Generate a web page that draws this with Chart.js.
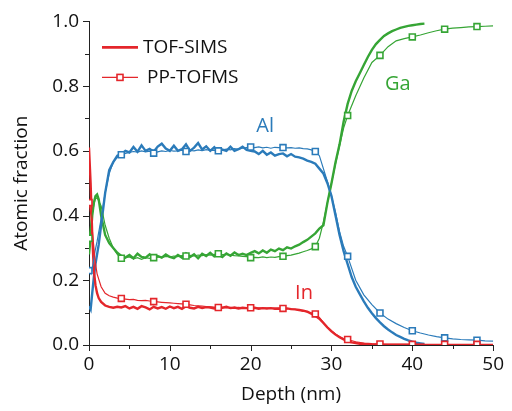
<!DOCTYPE html>
<html>
<head>
<meta charset="utf-8">
<script src="https://cdn.jsdelivr.net/npm/chart.js@4.4.0/dist/chart.umd.min.js"></script>
<style>
  html, body { margin: 0; padding: 0; background: #fff; }
  #wrap { width: 512px; height: 411px; }
</style>
</head>
<body>
<div id="wrap"><canvas id="c"></canvas></div>
<script>
// Depth profiles: TOF-SIMS (thick, no markers) vs PP-TOFMS (thin, square every 4 nm)

const simsDepth = [0, 0.2, 0.4, 0.6, 0.8, 1.0, 1.2, 1.5, 2, 2.5, 3, 3.5, 4,
  4.5, 5, 5.5, 6, 6.5, 7, 7.5, 8, 8.5, 9, 9.5, 10, 10.5, 11, 11.5, 12, 12.5, 13, 13.5, 14, 14.5, 15, 15.5, 16, 16.5, 17, 17.5, 18, 18.5, 19, 19.5, 20,
  20.5, 21, 21.5, 22, 22.5, 23, 23.5, 24, 24.5, 25, 25.5, 26, 26.5, 27, 27.5, 28, 28.5, 29, 29.5, 30,
  30.5, 31, 31.5, 32, 32.5, 33, 33.5, 34, 34.5, 35, 35.5, 36, 36.5, 37, 37.5, 38, 38.5, 39, 39.5, 40, 40.5, 41, 41.5]

const simsAl = [0.12, 0.11, 0.16, 0.21, 0.25, 0.28, 0.31, 0.37, 0.47, 0.54, 0.565, 0.585, 0.59,
  0.60, 0.595, 0.612, 0.597, 0.617, 0.60, 0.606, 0.597, 0.613, 0.622, 0.607, 0.60, 0.616, 0.60, 0.605, 0.62, 0.60, 0.61, 0.624, 0.604, 0.614, 0.60, 0.611, 0.597, 0.604, 0.60, 0.613, 0.60, 0.605, 0.613, 0.603, 0.60,
  0.598, 0.59, 0.60, 0.588, 0.595, 0.585, 0.59, 0.592, 0.583, 0.59, 0.582, 0.58, 0.576, 0.57, 0.566, 0.56, 0.545, 0.53, 0.50, 0.46,
  0.40, 0.34, 0.29, 0.25, 0.21, 0.18, 0.157, 0.135, 0.115, 0.098, 0.083, 0.07, 0.058, 0.048, 0.039, 0.031, 0.025, 0.019, 0.014, 0.01, 0.007, 0.005, 0.003]

const simsGa = [0.28, 0.33, 0.40, 0.44, 0.46, 0.465, 0.45, 0.40, 0.34, 0.315, 0.30, 0.285, 0.275,
  0.27, 0.278, 0.268, 0.282, 0.272, 0.27, 0.28, 0.268, 0.275, 0.27, 0.28, 0.272, 0.268, 0.278, 0.27, 0.283, 0.272, 0.28, 0.268, 0.282, 0.275, 0.285, 0.274, 0.28, 0.272, 0.283, 0.276, 0.286, 0.278, 0.282, 0.278, 0.285,
  0.29, 0.283, 0.292, 0.285, 0.295, 0.29, 0.298, 0.293, 0.302, 0.298, 0.305, 0.31, 0.318, 0.325, 0.335, 0.345, 0.36, 0.37, 0.44, 0.50,
  0.565, 0.62, 0.69, 0.745, 0.785, 0.815, 0.84, 0.865, 0.89, 0.912, 0.93, 0.943, 0.955, 0.963, 0.97, 0.975, 0.98, 0.983, 0.986, 0.988, 0.99, 0.992, 0.993]

const simsIn = [0.61, 0.50, 0.34, 0.23, 0.185, 0.16, 0.145, 0.133, 0.122, 0.118, 0.115, 0.118, 0.116,
  0.12, 0.113, 0.118, 0.112, 0.12, 0.116, 0.11, 0.118, 0.113, 0.117, 0.112, 0.119, 0.114, 0.118, 0.112, 0.12, 0.115, 0.113, 0.118, 0.114, 0.117, 0.116, 0.113, 0.117, 0.115, 0.118, 0.114, 0.116, 0.113, 0.115, 0.114, 0.113,
  0.115, 0.112, 0.114, 0.113, 0.114, 0.112, 0.113, 0.112, 0.113, 0.111, 0.11, 0.108, 0.106, 0.103, 0.097, 0.09, 0.081, 0.068, 0.054, 0.042,
  0.032, 0.024, 0.017, 0.012, 0.008, 0.006, 0.004, 0.003, 0.002, 0.001, 0.001, 0.001, 0.001, 0.001, 0.001, 0.001, 0.001, 0.001, 0.001, 0.001, 0.001, 0.001, 0.001]

const ppDepth = [0, 0.25, 0.5, 0.75, 1, 1.5, 2, 2.5, 3, 3.5, 4,
  4.5, 5, 5.5, 6, 6.5, 7, 7.5, 8, 8.5, 9, 9.5, 10, 10.5, 11, 11.5, 12, 12.5, 13, 13.5, 14, 14.5, 15, 15.5, 16, 16.5, 17, 17.5, 18, 18.5, 19, 19.5, 20,
  20.5, 21, 21.5, 22, 22.5, 23, 23.5, 24, 24.5, 25, 25.5, 26, 26.5, 27, 27.5, 28, 28.5, 29, 29.5, 30, 30.5, 31, 31.5, 32,
  33, 34, 35, 36, 37, 38, 39, 40, 41, 42, 43, 44, 45, 46, 47, 48, 49, 50]

const ppAl = [0.23, 0.22, 0.25, 0.29, 0.32, 0.39, 0.47, 0.53, 0.565, 0.58, 0.588,
  0.592, 0.595, 0.598, 0.596, 0.60, 0.597, 0.599, 0.593, 0.597, 0.60, 0.598, 0.601, 0.599, 0.60, 0.602, 0.598, 0.601, 0.60, 0.603, 0.601, 0.604, 0.601, 0.602, 0.60, 0.603, 0.605, 0.603, 0.607, 0.605, 0.608, 0.61, 0.612,
  0.61, 0.612, 0.609, 0.611, 0.608, 0.611, 0.61, 0.61, 0.609, 0.61, 0.608, 0.609, 0.607, 0.606, 0.603, 0.598, 0.585, 0.545, 0.505, 0.46, 0.41, 0.35, 0.305, 0.274,
  0.20, 0.155, 0.125, 0.099, 0.08, 0.066, 0.054, 0.044, 0.037, 0.031, 0.026, 0.022, 0.019, 0.017, 0.016, 0.015, 0.013, 0.012]

const ppGa = [0.33, 0.38, 0.42, 0.45, 0.455, 0.43, 0.37, 0.33, 0.30, 0.28, 0.268,
  0.27, 0.272, 0.266, 0.27, 0.265, 0.27, 0.268, 0.27, 0.272, 0.27, 0.274, 0.272, 0.275, 0.273, 0.276, 0.275, 0.277, 0.275, 0.278, 0.276, 0.279, 0.278, 0.28, 0.282, 0.279, 0.28, 0.278, 0.276, 0.275, 0.274, 0.273, 0.27,
  0.271, 0.27, 0.272, 0.27, 0.272, 0.271, 0.273, 0.274, 0.276, 0.278, 0.281, 0.284, 0.288, 0.292, 0.297, 0.304, 0.33, 0.38, 0.44, 0.50, 0.56, 0.615, 0.67, 0.709,
  0.77, 0.825, 0.873, 0.895, 0.922, 0.94, 0.947, 0.952, 0.958, 0.965, 0.971, 0.976, 0.979, 0.981, 0.983, 0.984, 0.985, 0.986]

const ppIn = [0.44, 0.40, 0.33, 0.26, 0.22, 0.18, 0.16, 0.152, 0.148, 0.145, 0.144,
  0.142, 0.14, 0.141, 0.138, 0.137, 0.138, 0.136, 0.134, 0.133, 0.132, 0.131, 0.13, 0.129, 0.128, 0.127, 0.126, 0.124, 0.122, 0.121, 0.12, 0.119, 0.118, 0.117, 0.116, 0.116, 0.115, 0.116, 0.115, 0.116, 0.115, 0.115, 0.115,
  0.114, 0.115, 0.114, 0.114, 0.113, 0.114, 0.113, 0.113, 0.112, 0.112, 0.11, 0.108, 0.105, 0.102, 0.099, 0.096, 0.085, 0.07, 0.056, 0.044, 0.034, 0.026, 0.02, 0.017,
  0.01, 0.006, 0.004, 0.003, 0.002, 0.002, 0.002, 0.002, 0.002, 0.002, 0.002, 0.002, 0.002, 0.002, 0.002, 0.002, 0.002, 0.002]

const markerDepths = [0, 4, 8, 12, 16, 20, 24, 28, 32, 36, 40, 44, 48]
const xTicks = [0, 10, 20, 30, 40, 50]
const yTicks = [0, 0.2, 0.4, 0.6, 0.8, 1.0]
const elementLabels = [
  { text: "Al", x: 21.8, y: 0.675, color: "blue" },
  { text: "Ga", x: 38.2, y: 0.805, color: "green" },
  { text: "In", x: 26.6, y: 0.16, color: "red" },
]

const COLORS = { red: "#E4262B", blue: "#2B7BBA", green: "#36A535" }
const FONT = "'Open Sans', sans-serif"

const pts = (xs, ys) => xs.map((x, i) => ({ x, y: ys[i] }))

const simsSet = (data, color) => ({
  data, borderColor: color, borderWidth: 2.4, pointRadius: 0, tension: 0,
})
const ppSet = (data, color) => ({
  data, borderColor: color, borderWidth: 1.2, tension: 0,
  pointStyle: "rect",
  pointRadius: ctx => markerDepths.includes(ctx.raw && ctx.raw.x) ? 4.2 : 0,
  pointBorderWidth: 1.6,
  pointBorderColor: color,
  pointBackgroundColor: "#fff",
})

// outward major/minor ticks, legend and element labels
const decor = {
  id: "decor",
  afterDraw(chart) {
    const { ctx, chartArea: a, scales: { x, y } } = chart
    ctx.save()
    ctx.strokeStyle = "#222"
    ctx.lineWidth = 1
    for (let v = 0; v <= 50; v += 5) {
      const px = Math.round(x.getPixelForValue(v)) + 0.5
      const len = v % 10 === 0 ? 6 : 4
      ctx.beginPath(); ctx.moveTo(px, a.bottom); ctx.lineTo(px, a.bottom + len); ctx.stroke()
    }
    for (let i = 0; i <= 10; i++) {
      const py = Math.round(y.getPixelForValue(i / 10)) + 0.5
      const len = i % 2 === 0 ? 6 : 4
      ctx.beginPath(); ctx.moveTo(a.left, py); ctx.lineTo(a.left - len, py); ctx.stroke()
    }

    // legend
    ctx.textBaseline = "middle"
    ctx.font = `19px ${FONT}`
    ctx.fillStyle = "#111"
    const lx0 = a.left + 13, lx1 = a.left + 49
    ctx.strokeStyle = COLORS.red
    ctx.lineWidth = 2.6
    ctx.beginPath(); ctx.moveTo(lx0, a.top + 26); ctx.lineTo(lx1, a.top + 26); ctx.stroke()
    ctx.fillText("TOF-SIMS", a.left + 54, a.top + 26)
    ctx.lineWidth = 1.2
    ctx.beginPath(); ctx.moveTo(lx0, a.top + 56); ctx.lineTo(lx1, a.top + 56); ctx.stroke()
    ctx.lineWidth = 1.6
    ctx.fillStyle = "#fff"
    ctx.fillRect(a.left + 28, a.top + 53, 6, 6)
    ctx.strokeRect(a.left + 28, a.top + 53, 6, 6)
    ctx.fillStyle = "#111"
    ctx.fillText("PP-TOFMS", a.left + 58, a.top + 56)

    ctx.font = `20px ${FONT}`
    ctx.textAlign = "center"
    elementLabels.forEach(l => {
      ctx.fillStyle = COLORS[l.color]
      ctx.fillText(l.text, x.getPixelForValue(l.x), y.getPixelForValue(l.y))
    })
    ctx.restore()
  },
}

new Chart(document.getElementById("c"), {
  type: "line",
  data: {
    datasets: [
      ppSet(pts(ppDepth, ppIn), COLORS.red),
      ppSet(pts(ppDepth, ppAl), COLORS.blue),
      ppSet(pts(ppDepth, ppGa), COLORS.green),
      simsSet(pts(simsDepth, simsIn), COLORS.red),
      simsSet(pts(simsDepth, simsAl), COLORS.blue),
      simsSet(pts(simsDepth, simsGa), COLORS.green),
    ],
  },
  options: {
    responsive: true,
    maintainAspectRatio: false,
    animation: false,
    layout: { padding: { top: 16, right: 13, left: 0, bottom: 0 } },
    plugins: { legend: { display: false }, tooltip: { enabled: false } },
    scales: {
      x: {
        type: "linear", min: 0, max: 50,
        afterBuildTicks: s => { s.ticks = xTicks.map(value => ({ value })) },
        afterFit: s => { s.height = 66 },
        grid: { display: false, drawTicks: false },
        border: { display: true, color: "#222", width: 1 },
        ticks: { color: "#111", font: { family: FONT, size: 19 }, padding: 8, maxRotation: 0 },
        title: { display: true, text: "Depth (nm)", color: "#111", font: { family: FONT, size: 19 }, padding: { top: 0, bottom: 5 } },
      },
      y: {
        type: "linear", min: 0, max: 1,
        afterBuildTicks: s => { s.ticks = yTicks.map(value => ({ value })) },
        afterFit: s => { s.width = 89 },
        grid: { display: false, drawTicks: false },
        border: { display: true, color: "#222", width: 1 },
        ticks: { color: "#111", font: { family: FONT, size: 19 }, padding: 10, callback: v => v.toFixed(1) },
        title: { display: true, text: "Atomic fraction", color: "#111", font: { family: FONT, size: 19 }, padding: { top: 10, bottom: 0 } },
      },
    },
  },
  plugins: [decor],
})
</script>
</body>
</html>
